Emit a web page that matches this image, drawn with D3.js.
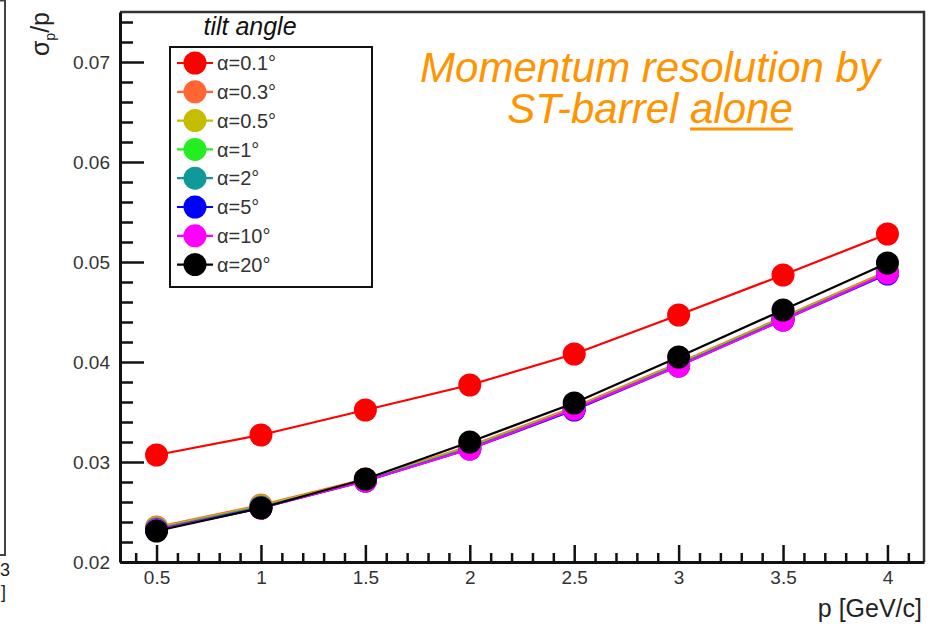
<!DOCTYPE html>
<html>
<head>
<meta charset="utf-8">
<script src="https://cdn.jsdelivr.net/npm/d3@7"></script>
<style>
  body { margin: 0; background: #fff; }
  svg { display: block; font-family: "Liberation Sans", Arial, sans-serif; }
</style>
</head>
<body>
<svg id="chart"></svg>
<script>
// momentum points (GeV/c)
const momenta = [0.5, 1, 1.5, 2, 2.5, 3, 3.5, 4];

// sigma_p / p for each tilt angle
const res01 = [0.0307, 0.0327, 0.0352, 0.0377, 0.0408, 0.0447, 0.0487, 0.0528];
const res03 = [0.0235, 0.0257, 0.0283, 0.0316, 0.0355, 0.0399, 0.0445, 0.0491];
const res05 = [0.0234, 0.0256, 0.0282, 0.0315, 0.0354, 0.0398, 0.0444, 0.0490];
const res1 = [0.0233, 0.0255, 0.0282, 0.0314, 0.0353, 0.0397, 0.0443, 0.0489];
const res2 = [0.0233, 0.0255, 0.0281, 0.0314, 0.0353, 0.0397, 0.0443, 0.0489];
const res5 = [0.0232, 0.0254, 0.0281, 0.0313, 0.0352, 0.0396, 0.0442, 0.0488];
const res10 = [0.0232, 0.0254, 0.0281, 0.0313, 0.0353, 0.0396, 0.0442, 0.0489];
const res20 = [0.0231, 0.0254, 0.0283, 0.0320, 0.0359, 0.0405, 0.0452, 0.0499];

const seriesNames = ["α=0.1°", "α=0.3°", "α=0.5°", "α=1°", "α=2°", "α=5°", "α=10°", "α=20°"];
const seriesColors = ["#ff0000", "#ff6633", "#c4bd00", "#22ee22", "#119999", "#0000ff", "#ff00ff", "#000000"];
const seriesValues = [res01, res03, res05, res1, res2, res5, res10, res20];

const xTicks = [0.5, 1, 1.5, 2, 2.5, 3, 3.5, 4];
const yTicks = [0.02, 0.03, 0.04, 0.05, 0.06, 0.07];

let width = 930;
let height = 624;

let svg = d3.select('#chart')
    .attr('width', width)
    .attr('height', height)

let xScale = d3.scaleLinear()
    .domain([0.325, 4.175])
    .range([120, 924])

let yScale = d3.scaleLinear()
    .domain([0.02, 0.075])
    .range([562, 12])

// bit of the neighbouring panel at the left edge
svg.append('path')
   .attr('d', 'M-10,0.5 H5 V555 H-10')
   .attr('fill', 'none')
   .attr('stroke', '#444')
   .attr('stroke-width', 2)
svg.append('text').attr('x', 0).attr('y', 576).attr('font-size', 18).attr('fill', '#222').text('3')
svg.append('text').attr('x', 1).attr('y', 598).attr('font-size', 18).attr('fill', '#222').text(']')

// frame top and right
svg.append('path')
   .attr('d', `M${xScale.range()[0]},${yScale.range()[1]} H${xScale.range()[1]} V${yScale.range()[0]}`)
   .attr('fill', 'none')
   .attr('stroke', '#333')
   .attr('stroke-width', 2.5)

// axes
let xMinor = d3.range(4, 42).map(d => d / 10).filter(d => !xTicks.includes(d));
let yMinor = d3.range(10, 38).map(d => d * 0.002).filter(d => yTicks.every(t => Math.abs(t - d) > 1e-6));

let gx = svg.append('g')
   .attr('id', 'x-axis')
   .attr('transform', `translate(0, ${yScale.range()[0]})`)
   .call(d3.axisBottom(xScale).tickValues(xTicks).tickSizeInner(-17).tickSizeOuter(0).tickPadding(9).tickFormat(d3.format('')))
gx.append('g')
   .call(d3.axisBottom(xScale).tickValues(xMinor).tickSizeInner(-9).tickSizeOuter(0).tickFormat(''))
   .select('.domain').remove()

let gy = svg.append('g')
   .attr('id', 'y-axis')
   .attr('transform', `translate(${xScale.range()[0]}, 0)`)
   .call(d3.axisLeft(yScale).tickValues(yTicks).tickSizeInner(-24).tickSizeOuter(0).tickPadding(10).tickFormat(d3.format('.2f')))
gy.append('g')
   .call(d3.axisLeft(yScale).tickValues(yMinor).tickSizeInner(-13).tickSizeOuter(0).tickFormat(''))
   .select('.domain').remove()

svg.selectAll('.domain').attr('stroke', '#111').attr('stroke-width', 3)
svg.selectAll('.tick line').attr('stroke', '#111').attr('stroke-width', 2.5)
svg.selectAll('.tick text')
   .attr('font-size', 19)
   .attr('fill', '#333')
   .attr('font-family', '"Liberation Sans", Arial, sans-serif')

// axis titles
svg.append('text')
   .attr('transform', 'translate(49, 12) rotate(-90)')
   .attr('text-anchor', 'end')
   .attr('font-size', 25)
   .attr('fill', '#222')
   .call(t => {
       t.append('tspan').text('σ')
       t.append('tspan').attr('font-size', 14).attr('dy', 6).text('p')
       t.append('tspan').attr('dy', -6).text('/p')
   })

svg.append('text')
   .attr('x', 922)
   .attr('y', 617)
   .attr('text-anchor', 'end')
   .attr('font-size', 25)
   .attr('fill', '#222')
   .text('p [GeV/c]')

// lines + markers
let line = d3.line()
    .x((d, i) => xScale(momenta[i]))
    .y(d => yScale(d))

seriesValues.forEach((vals, k) => {
    let g = svg.append('g').attr('class', 'series')
    g.append('path')
     .attr('d', line(vals))
     .attr('fill', 'none')
     .attr('stroke', seriesColors[k])
     .attr('stroke-width', 2.2)
    g.selectAll('circle')
     .data(vals)
     .enter()
     .append('circle')
     .attr('cx', (d, i) => xScale(momenta[i]))
     .attr('cy', d => yScale(d))
     .attr('r', 11.5)
     .attr('fill', seriesColors[k])
})

// legend
svg.append('text')
   .attr('x', 250)
   .attr('y', 35)
   .attr('text-anchor', 'middle')
   .attr('font-size', 25)
   .attr('font-style', 'italic')
   .attr('fill', '#111')
   .text('tilt angle')

svg.append('rect')
   .attr('x', 170)
   .attr('y', 47)
   .attr('width', 202)
   .attr('height', 240)
   .attr('fill', '#fff')
   .attr('stroke', '#111')
   .attr('stroke-width', 2)

let legendItems = svg.selectAll('.legend-item')
   .data(seriesNames)
   .enter()
   .append('g')
   .attr('class', 'legend-item')
   .attr('transform', (d, i) => `translate(195, ${63 + i * 28.8})`)

legendItems.append('line')
   .attr('x1', -18).attr('x2', 18)
   .attr('stroke', (d, i) => seriesColors[i])
   .attr('stroke-width', 2.2)
legendItems.append('circle')
   .attr('r', 11.5)
   .attr('fill', (d, i) => seriesColors[i])
legendItems.append('text')
   .attr('x', 22)
   .attr('dy', '0.36em')
   .attr('font-size', 20)
   .attr('fill', '#333')
   .text(d => d)

// annotation, two separate lines
let orange = '#ff9400'
svg.append('text')
   .attr('x', 650).attr('y', 82)
   .attr('text-anchor', 'middle')
   .attr('font-size', 42)
   .attr('font-style', 'italic')
   .attr('fill', orange)
   .text('Momentum resolution by')

let second = svg.append('text')
   .attr('x', 650).attr('y', 123)
   .attr('text-anchor', 'middle')
   .attr('font-size', 42)
   .attr('font-style', 'italic')
   .attr('fill', orange)
   .text('ST-barrel alone')

// underline below "alone"
let node = second.node()
let full = node.getComputedTextLength()
let startX = 650 - full / 2 + node.getSubStringLength(0, 10)
let endX = 650 + full / 2
svg.append('line')
   .attr('x1', startX).attr('x2', endX)
   .attr('y1', 129).attr('y2', 129)
   .attr('stroke', orange)
   .attr('stroke-width', 3)
</script>
</body>
</html>
